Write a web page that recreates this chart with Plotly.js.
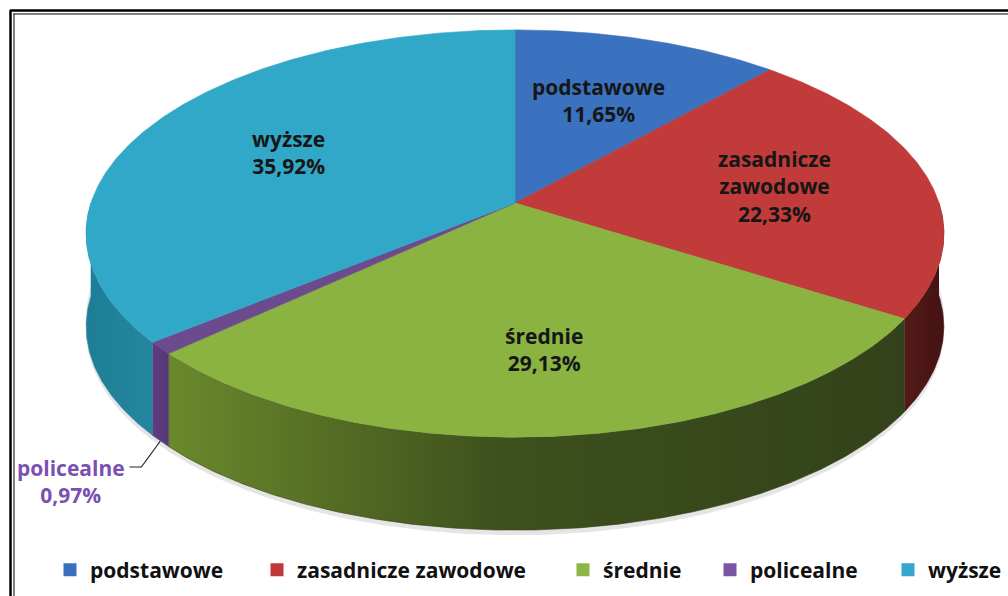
<!DOCTYPE html>
<html>
<head>
<meta charset="utf-8">
<script src="https://cdn.plot.ly/plotly-3.0.1.min.js"></script>
<style>html,body{margin:0;padding:0;background:#fff;}#chart{width:1008px;height:596px;}</style>
</head>
<body>
<div id="chart"></div>
<script>
// ---- data ----
const categories = ['podstawowe', 'zasadnicze zawodowe', 'średnie', 'policealne', 'wyższe'];
const values = [11.65, 22.33, 29.13, 0.97, 35.92];
const labelLines = ['podstawowe', 'zasadnicze<br>zawodowe', 'średnie', 'policealne', 'wyższe'];

// ---- styles ----
const topColors = ['#3a72bf', '#c03b39', '#8ab342', '#6c4a8e', '#31a8c8'];
const wallScales = [
  [[0, '#2c5a96'], [1, '#24497a']],
  [[0, '#541a18'], [1, '#431312']],
  [[0, '#6a892c'], [0.45, '#3e501d'], [1, '#33421a']],
  [[0, '#5e3d83'], [1, '#553777']],
  [[0, '#1f7d96'], [1, '#23879f']]
];
const legendColors = ['#3a6fbd', '#c03838', '#8db548', '#7b54a3', '#36a7cc'];
const labelColors = ['#161616', '#161616', '#161616', '#7b50b2', '#161616'];
const legendSymbolX = [71, 278, 584, 731, 909];   // legend square centres (px)

// ---- projection (perspective view of a disc) ----
const W = 1008, H = 596;
const PX0 = 515, PY0 = 203, S = 424;          // apex position & scale (px)
const E = 28 * Math.PI / 180, C = Math.cos(E), SE = Math.sin(E);
const DIST = 6.672 * C;
const DEPTH = 93 / S;                          // wall height in units
function proj(phi) {
  const X = Math.sin(phi), Z = Math.cos(phi);
  const k = DIST / (DIST + Z * C);
  return [X * k, Z * SE * k];
}
const total = values.reduce((a, b) => a + b, 0);
const bounds = [0];
values.forEach(v => bounds.push(bounds[bounds.length - 1] + v / total * 2 * Math.PI));

function arc(a, b, dy) {
  const n = Math.max(2, Math.ceil((b - a) / (Math.PI / 360)));
  const xs = [], ys = [];
  for (let i = 0; i <= n; i++) {
    const p = proj(a + (b - a) * i / n);
    xs.push(p[0]); ys.push(p[1] - dy);
  }
  return [xs, ys];
}

const traces = [];
// soft shadow under the disc
{
  const [xs, ys] = arc(Math.PI / 2 - 0.05, 3 * Math.PI / 2 + 0.05, DEPTH + 5 / S);
  const [xt, yt] = arc(Math.PI / 2 - 0.05, 3 * Math.PI / 2 + 0.05, DEPTH - 10 / S);
  traces.push({x: xs.concat(xt.reverse()), y: ys.concat(yt.reverse()), type: 'scatter', mode: 'lines',
    fill: 'toself', fillcolor: 'rgba(0,0,0,0.10)', line: {width: 0}, hoverinfo: 'skip', showlegend: false});
}
// side walls (front half only)
values.forEach((v, i) => {
  const a = Math.max(bounds[i], Math.PI / 2), b = Math.min(bounds[i + 1], 3 * Math.PI / 2);
  if (b <= a) return;
  const [xt, yt] = arc(a, b, 0);
  const [xb, yb] = arc(a, b, DEPTH);
  traces.push({x: xt.concat(xb.reverse()), y: yt.concat(yb.reverse()), type: 'scatter', mode: 'lines',
    fill: 'toself', fillgradient: {type: 'horizontal', colorscale: wallScales[i]},
    line: {width: 0.6, color: wallScales[i][wallScales[i].length - 1][1]}, hoverinfo: 'skip', showlegend: false});
});
// top faces
values.forEach((v, i) => {
  const [xs, ys] = arc(bounds[i], bounds[i + 1], 0);
  traces.push({x: [0].concat(xs, [0]), y: [0].concat(ys, [0]), type: 'scatter', mode: 'lines',
    fill: 'toself', fillcolor: topColors[i], line: {width: 0.6, color: topColors[i]},
    hoverinfo: 'skip', showlegend: false, name: categories[i]});
});

// labels
const fmt = v => v.toFixed(2).replace('.', ',') + '%';
const annotations = [];
const R = 0.63;
const labelFont = c => ({family: 'Open Sans', size: 21, weight: 700, color: c});
values.forEach((v, i) => {
  const mid = (bounds[i] + bounds[i + 1]) / 2;
  const p = proj(mid);
  if (v < 3) {
    // outside label with leader line
    const ax = p[0], ay = p[1] - DEPTH;
    const ex = ax - 19 / S, ey = ay - 26 / S;
    const fx = ex - 12 / S;
    traces.push({x: [ax, ex, fx], y: [ay, ey, ey], type: 'scatter', mode: 'lines',
      line: {color: '#222', width: 1.2}, hoverinfo: 'skip', showlegend: false});
    annotations.push({x: fx - 2 / S, y: ey - 14 / S, xref: 'x', yref: 'y', xanchor: 'right', yanchor: 'middle',
      align: 'center', showarrow: false, text: labelLines[i] + '<br>' + fmt(v), font: labelFont(labelColors[i])});
  } else {
    annotations.push({x: p[0] * R, y: p[1] * R, xref: 'x', yref: 'y', xanchor: 'center', yanchor: 'middle',
      align: 'center', showarrow: false, text: labelLines[i] + '<br>' + fmt(v), font: labelFont(labelColors[i])});
  }
});

// legend entries: one legend per entry so the spacing follows the reference
const layout = {
  width: W, height: H,
  margin: {l: 0, r: 0, t: 0, b: 0},
  paper_bgcolor: '#fff', plot_bgcolor: '#fff',
  xaxis: {range: [-PX0 / S, (W - PX0) / S], visible: false, fixedrange: true},
  yaxis: {range: [(PY0 - H) / S, PY0 / S], visible: false, fixedrange: true},
  showlegend: true,
  annotations: annotations,
  hovermode: false
};
categories.forEach((c, i) => {
  const key = i === 0 ? 'legend' : 'legend' + (i + 1);
  traces.push({x: [null], y: [null], type: 'scatter', mode: 'markers', name: c, legend: key,
    marker: {symbol: 'square', size: 13, color: legendColors[i]}, hoverinfo: 'skip'});
  layout[key] = {orientation: 'h', x: (legendSymbolX[i] - 21) / W, xanchor: 'left', y: 1 - 570 / H, yanchor: 'middle',
    font: {family: 'Open Sans', size: 21, weight: 700, color: '#111'}, itemwidth: 30, bgcolor: 'rgba(0,0,0,0)'};
});

layout.shapes = [
  {type: 'line', xref: 'paper', yref: 'paper', x0: 10.5 / W, x1: 10.5 / W, y0: 1 - 10 / H, y1: 0, line: {color: '#000', width: 2.5}},
  {type: 'line', xref: 'paper', yref: 'paper', x0: 10 / W, x1: 1, y0: 1 - 10.5 / H, y1: 1 - 10.5 / H, line: {color: '#000', width: 2.5}},
  {type: 'line', xref: 'paper', yref: 'paper', x0: 14 / W, x1: 14 / W, y0: 1 - 13.5 / H, y1: 0, line: {color: '#000', width: 1}},
  {type: 'line', xref: 'paper', yref: 'paper', x0: 13.5 / W, x1: 1, y0: 1 - 14 / H, y1: 1 - 14 / H, line: {color: '#000', width: 1}}
];

Plotly.newPlot('chart', traces, layout, {displayModeBar: false, staticPlot: true});
</script>
</body>
</html>
